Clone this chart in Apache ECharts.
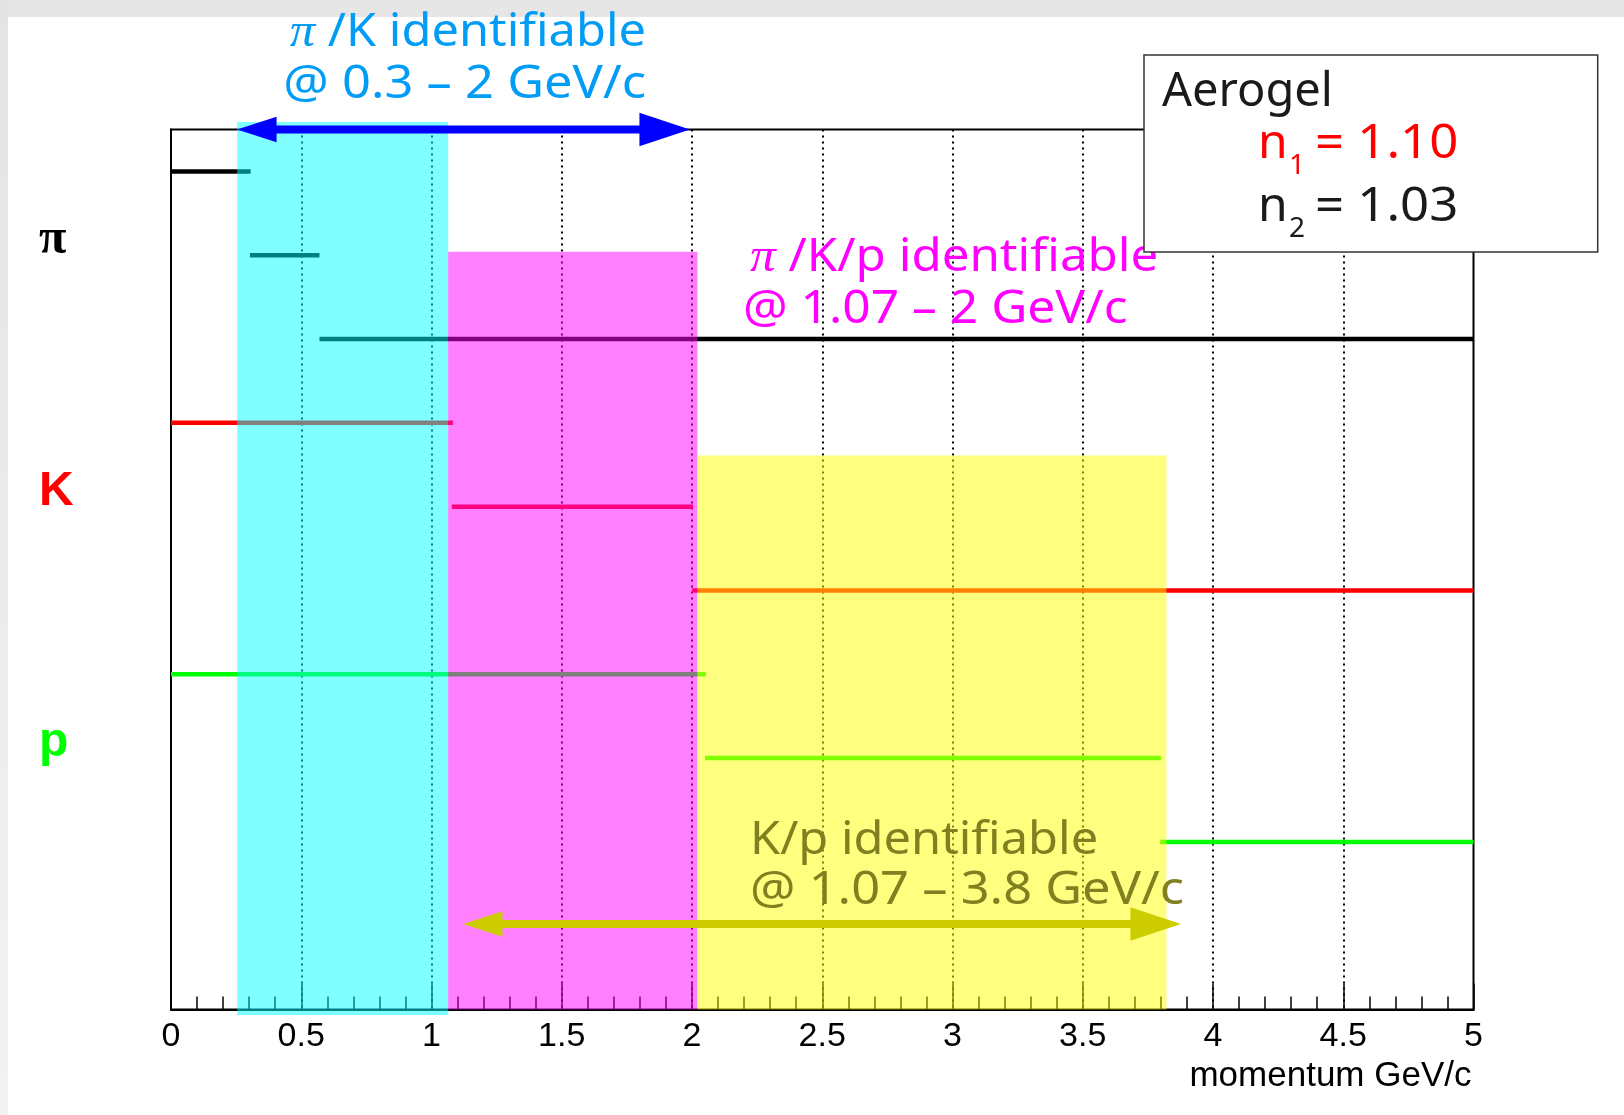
<!DOCTYPE html>
<html><head><meta charset="utf-8">
<script src="https://cdn.jsdelivr.net/npm/echarts@6/dist/echarts.min.js"></script>
<style>html,body{margin:0;padding:0;background:#fff;overflow:hidden}#chart{width:1624px;height:1115px}</style>
</head><body><div id="chart"></div>
<script>
// ---------- data ----------
const xTickValues = [0, 0.5, 1, 1.5, 2, 2.5, 3, 3.5, 4, 4.5, 5];
const xTickLabels = ['0', '0.5', '1', '1.5', '2', '2.5', '3', '3.5', '4', '4.5', '5'];
const particleLabels = ['π', 'K', 'p'];
const particleLevels = [9, 6, 3];
const particleColors = ['#000000', '#ff0000', '#00ff00'];
// Cherenkov threshold segments (momentum GeV/c)
const segStart    = [0,     0.303, 0.570, 0,     1.078, 2.000, 0,     2.050, 3.797];
const segEnd      = [0.306, 0.570, 5,     1.082, 2.004, 5,     2.053, 3.800, 5];
const segLevel    = [10,    9,     8,     7,     6,     5,     4,     3,     2];
const segParticle = [0,     0,     0,     1,     1,     1,     2,     2,     2];
// identification regions
const bandStart  = [0.254, 1.064, 2.021];
const bandEnd    = [1.064, 2.021, 3.821];
const bandBottom = [-0.065, 0, 0];
const bandTop    = [10.59, 9.04, 6.61];
const bandColors = ['rgba(0,255,255,0.5)', 'rgba(255,0,255,0.5)', 'rgba(255,255,0,0.5)'];
// range arrows
const arrowStart = [0.2535, 1.121];
const arrowEnd   = [1.992, 3.877];
const arrowLevel = [10.5, 1.02];
const arrowColors = ['#0000ff', '#cccc00'];

const chart = echarts.init(document.getElementById('chart'), null, {renderer: 'canvas'});

const segData = segStart.map((s, i) => [s, segEnd[i], segLevel[i], segParticle[i]]);
const bandData = bandStart.map((s, i) => [s, bandEnd[i], bandBottom[i], bandTop[i], i]);
const arrowData = arrowStart.map((s, i) => [s, arrowEnd[i], arrowLevel[i], i]);

const blue = '#009cf5', mag = '#ff00ff', olive = '#808020';
const FS = 46;
function annot(text, x, y, align, color, sx) {
  return {type: 'text', x: x, y: y, scaleX: sx, z: 50,
    style: {text: text, align: align, verticalAlign: 'middle', fontSize: FS, fontFamily: 'Noto Sans', fill: color,
      rich: {pi: {fontFamily: 'Liberation Serif', fontStyle: 'italic', fontSize: 48, fill: color}}}};
}

const option = {
  animation: false,
  backgroundColor: '#ffffff',
  grid: {left: 171, right: 150.5, top: 129.5, bottom: 105.5, show: true, borderColor: '#000', borderWidth: 2, backgroundColor: 'transparent', containLabel: false, outerBoundsMode: 'none'},
  xAxis: {
    type: 'value', min: 0, max: 5, interval: 0.5,
    axisLine: {show: true, onZero: false, lineStyle: {color: '#000', width: 2}},
    axisTick: {show: true, inside: true, length: 26, lineStyle: {color: '#000', width: 1.5}},
    minorTick: {show: true, splitNumber: 5, length: 13, lineStyle: {color: '#000', width: 1.5}},
    splitLine: {show: true, showMinLine: false, showMaxLine: false, lineStyle: {color: '#000', width: 2, type: [2, 4]}},
    minorSplitLine: {show: false},
    axisLabel: {margin: 10, fontSize: 34, fontFamily: 'Liberation Sans', color: '#000',
      formatter: (v) => { const i = xTickValues.findIndex(t => Math.abs(t - v) < 1e-6); return i < 0 ? '' : xTickLabels[i]; }},
    name: 'momentum GeV/c', nameLocation: 'end', nameGap: -2,
    nameTextStyle: {fontSize: 35, fontFamily: 'Liberation Sans', color: '#000', align: 'right', verticalAlign: 'top', padding: [49, 0, 0, 0]}
  },
  yAxis: {
    type: 'value', min: 0, max: 10.5, interval: 1,
    axisLine: {show: true, lineStyle: {color: '#000', width: 2}},
    axisTick: {show: false}, splitLine: {show: false},
    axisLabel: {show: true, align: 'left', margin: 132, padding: [0, 0, 30, 0],
      formatter: (v) => { const i = particleLevels.indexOf(v); return i < 0 ? '' : '{p' + i + '|' + particleLabels[i] + '}'; },
      rich: {
        p0: {fontFamily: 'Liberation Serif', fontWeight: 'bold', fontSize: 50, color: particleColors[0]},
        p1: {fontFamily: 'Liberation Sans', fontWeight: 'bold', fontSize: 48, color: particleColors[1]},
        p2: {fontFamily: 'Liberation Sans', fontWeight: 'bold', fontSize: 48, color: particleColors[2]}
      }}
  },
  series: [
    {
      type: 'custom', name: 'thresholds', z: 2, clip: false, data: segData,
      encode: {x: [0, 1], y: 2},
      renderItem: (params, api) => {
        const p1 = api.coord([api.value(0), api.value(2)]);
        const p2 = api.coord([api.value(1), api.value(2)]);
        return {type: 'line', shape: {x1: p1[0], y1: p1[1], x2: p2[0], y2: p2[1]},
          style: {stroke: particleColors[api.value(3)], lineWidth: 4.5, lineCap: 'butt'}};
      }
    },
    {
      type: 'custom', name: 'regions', z: 3, clip: false, data: bandData,
      encode: {x: [0, 1], y: [2, 3]},
      renderItem: (params, api) => {
        const a = api.coord([api.value(0), api.value(3)]);
        const b = api.coord([api.value(1), api.value(2)]);
        return {type: 'rect', shape: {x: a[0], y: a[1], width: b[0] - a[0], height: b[1] - a[1]},
          style: {fill: bandColors[api.value(4)]}};
      }
    },
    {
      type: 'custom', name: 'arrows', z: 4, clip: false, data: arrowData,
      encode: {x: [0, 1], y: 2},
      renderItem: (params, api) => {
        const p1 = api.coord([api.value(0), api.value(2)]);
        const p2 = api.coord([api.value(1), api.value(2)]);
        const c = arrowColors[api.value(3)];
        const hl = 39.5, hwl = 12.8, hr = 50.5, hwr = 16.8, t = 8;
        return {type: 'group', children: [
          {type: 'rect', shape: {x: p1[0] + hl - 1, y: p1[1] - t / 2, width: (p2[0] - hr) - (p1[0] + hl) + 2, height: t}, style: {fill: c}},
          {type: 'polygon', shape: {points: [[p1[0], p1[1]], [p1[0] + hl, p1[1] - hwl], [p1[0] + hl, p1[1] + hwl]]}, style: {fill: c}},
          {type: 'polygon', shape: {points: [[p2[0], p2[1]], [p2[0] - hr, p2[1] - hwr], [p2[0] - hr, p2[1] + hwr]]}, style: {fill: c}}
        ]};
      }
    }
  ],
  graphic: [
    {type: 'rect', z: -10, shape: {x: 0, y: 0, width: 1624, height: 17}, style: {fill: '#e6e6e6'}},
    {type: 'rect', z: -10, shape: {x: 0, y: 0, width: 8, height: 1115},
      style: {fill: new echarts.graphic.LinearGradient(0, 0, 0, 1, [{offset: 0, color: '#e4e4e4'}, {offset: 1, color: '#f2f2f2'}])}},
    annot('{pi|π} /K identifiable', 646, 33, 'right', blue, 1.06),
    annot('@ 0.3 – 2 GeV/c', 646, 84.5, 'right', blue, 1.1),
    annot('{pi|π} /K/p identifiable', 750, 258, 'left', mag, 1.07),
    annot('@ 1.07 – 2 GeV/c', 743, 309.5, 'left', mag, 1.08),
    annot('K/p identifiable', 750, 840.5, 'left', olive, 1.06),
    annot('@ 1.07 – 3.8 GeV/c', 750, 891, 'left', olive, 1.1),
    {type: 'group', z: 100, children: [
      {type: 'rect', z: 100, shape: {x: 1144, y: 55, width: 453.7, height: 197}, style: {fill: '#fff', stroke: '#333', lineWidth: 1.5}},
      {type: 'text', z: 101, x: 1162, y: 93, style: {text: 'Aerogel', fontSize: 47, fontFamily: 'Noto Sans', fill: '#1a1a1a', align: 'left', verticalAlign: 'middle'}},
      {type: 'text', z: 101, x: 1258, y: 144.5, style: {text: 'n', fontSize: 48, fontFamily: 'Noto Sans', fill: '#ff0000', align: 'left', verticalAlign: 'middle'}},
      {type: 'text', z: 101, x: 1289, y: 166, style: {text: '1', fontSize: 28, fontFamily: 'Noto Sans', fill: '#ff0000', align: 'left', verticalAlign: 'middle'}},
      {type: 'text', z: 101, x: 1315, y: 144.5, scaleX: 1.06, style: {text: '= 1.10', fontSize: 48, fontFamily: 'Noto Sans', fill: '#ff0000', align: 'left', verticalAlign: 'middle'}},
      {type: 'text', z: 101, x: 1258, y: 207.5, style: {text: 'n', fontSize: 48, fontFamily: 'Noto Sans', fill: '#1a1a1a', align: 'left', verticalAlign: 'middle'}},
      {type: 'text', z: 101, x: 1289, y: 229.5, style: {text: '2', fontSize: 28, fontFamily: 'Noto Sans', fill: '#1a1a1a', align: 'left', verticalAlign: 'middle'}},
      {type: 'text', z: 101, x: 1315, y: 207.5, scaleX: 1.06, style: {text: '= 1.03', fontSize: 48, fontFamily: 'Noto Sans', fill: '#1a1a1a', align: 'left', verticalAlign: 'middle'}}
    ]}
  ]
};
chart.setOption(option);
</script>
</body></html>
